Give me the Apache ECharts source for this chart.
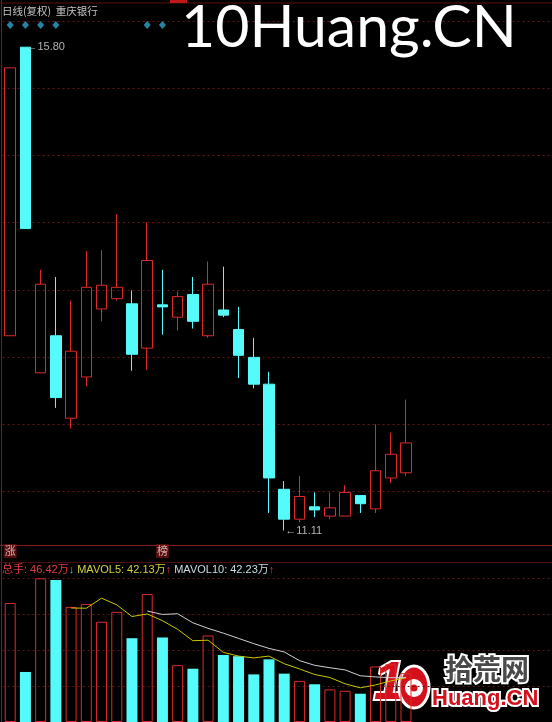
<!DOCTYPE html>
<html><head><meta charset="utf-8">
<script src="https://cdn.jsdelivr.net/npm/echarts@6/dist/echarts.min.js"></script>
<style>html,body{margin:0;padding:0;background:#000;}#c{width:552px;height:722px;}</style>
</head><body><div id="c"></div>
<script>
// ---- data ----
const categories = ['D1','D2','D3','D4','D5','D6','D7','D8','D9','D10','D11','D12','D13','D14','D15','D16','D17','D18',
  'D19','D20','D21','D22','D23','D24','D25','D26','D27','D28','D29','D30','D31','D32','D33','D34','D35','D36'];
const opens  = [13.00,15.80,12.64,13.00,12.20,12.60,13.26,13.36,13.31,12.88,13.30,13.18,13.40,13.00,13.25,13.06,12.79,12.53,11.51,11.22,11.34,11.25,11.25,11.45,11.32,11.62,11.67];
const closes = [15.60,14.04,13.50,12.40,12.85,13.47,13.49,13.47,12.82,13.73,13.28,13.38,13.14,13.50,13.20,12.81,12.53,11.62,11.22,11.44,11.31,11.33,11.48,11.37,11.69,11.85,11.96];
const lows   = [13.00,14.04,12.64,12.30,12.10,12.51,13.14,13.34,12.66,12.67,13.01,13.05,13.07,12.98,13.18,12.59,12.49,11.28,11.11,11.19,11.24,11.22,11.25,11.28,11.28,11.57,11.64];
const highs  = [15.60,15.80,13.64,13.57,13.34,13.82,13.83,14.18,13.44,14.10,13.64,13.43,13.57,13.72,13.67,13.28,12.98,12.65,11.59,11.64,11.48,11.48,11.55,11.45,12.14,12.06,12.38];
const volumes = [113.2,47.6,136.7,135.1,109.5,112.3,95.4,104.8,79.7,121.7,80.4,54.1,50.7,82.3,63.8,62.6,45.3,59.6,46.0,39.1,35.9,31.0,29.7,26.9,52.8,54.85,46.42];
const signalIdx = [0,1,2,3,9,10];
const flagIdx = [0,10];
const flagText = ['涨','榜'];
const titleText = '日线(复权)  重庆银行';

// ---- styles ----
const RED = '#dc2a2a', CYAN = '#55fafa', GRIDC = '#661414';
const n = opens.length;
const up = opens.map((o,i)=>closes[i] >= o);
const kdata = opens.map((o,i)=>[o, closes[i], lows[i], highs[i]]);
function ma(k){ return volumes.map((v,i)=>{ if(i<k-1) return '-'; let s=0; for(let j=i-k+1;j<=i;j++) s+=volumes[j]; return +(s/k).toFixed(3);}); }
const ma5 = ma(5), ma10 = ma(10);
const last = n-1;
const arrow = (a,b)=> a>=b ? '↑' : '↓';
const volArrow = arrow(volumes[last], volumes[last-1]);
const ma5Arrow = arrow(ma5[last], ma5[last-1]);
const ma10Arrow = arrow(ma10[last], ma10[last-1]);

const L = 2.6, W = 548;
const mkX = (gi)=>({type:'category', gridIndex:gi, data:categories, boundaryGap:true, show:false});
const hiddenY = (gi, extra)=>Object.assign({type:'value', gridIndex:gi, axisLine:{show:false}, axisTick:{show:false}, axisLabel:{show:false}, splitLine:{show:false}}, extra||{});
const dotted = {show:true, lineStyle:{color:GRIDC, type:[2,3], width:1}};

const chart = echarts.init(document.getElementById('c'), null, {renderer:'canvas'});
chart.setOption({
  backgroundColor:'#000',
  animation:false,
  grid:[
    {left:L, width:W, top:21, height:524},
    {left:L, width:W, top:578.3, height:145.7},
    {left:L, width:W, top:21, height:470.7},
    {left:L, width:W, top:20, height:10},
    {left:L, width:W, top:544, height:14}
  ],
  xAxis:[mkX(0),mkX(1),mkX(2),mkX(3),mkX(4)],
  yAxis:[
    hiddenY(0,{min:10.9694, max:16.0542, scale:true}),
    hiddenY(1,{min:0, max:136.7, interval:34.175, splitLine:dotted}),
    hiddenY(2,{min:0, max:7, interval:1, splitLine:dotted}),
    hiddenY(3,{min:0, max:1}),
    hiddenY(4,{min:0, max:1})
  ],
  series:[
    {type:'candlestick', xAxisIndex:0, yAxisIndex:0, data:kdata, barWidth:11,
     itemStyle:{color:'transparent', color0:CYAN, borderColor:RED, borderColor0:CYAN, borderWidth:1},
     markPoint:{symbol:'circle', symbolSize:0,
       data:[{type:'max', valueDim:'highest'},{type:'min', valueDim:'lowest'}],
       label:{show:true, position:'right', distance:1, color:'#b4b4b4', fontSize:11, fontFamily:'Liberation Sans',
         formatter:p=>'←'+Number(p.value).toFixed(2)}}
    },
    {type:'bar', xAxisIndex:1, yAxisIndex:1, barWidth:11,
     data:volumes.map((v,i)=>({value:v, itemStyle: up[i] ? {color:'transparent', borderColor:RED, borderWidth:1} : {color:CYAN}}))},
    {type:'line', xAxisIndex:1, yAxisIndex:1, data:ma5, symbol:'none', lineStyle:{color:'#c8c800', width:1}},
    {type:'line', xAxisIndex:1, yAxisIndex:1, data:ma10, symbol:'none', lineStyle:{color:'#d0d0d0', width:1}},
    {type:'scatter', xAxisIndex:3, yAxisIndex:3, data:signalIdx.map(i=>[i,0.5]), symbol:'diamond', symbolSize:[7,8], itemStyle:{color:'#2aa8cc'}},
    {type:'scatter', xAxisIndex:4, yAxisIndex:4, data:flagIdx.map((i,k)=>({value:[i,0.5], name:flagText[k]})), symbol:'rect', symbolSize:[13,14],
     itemStyle:{color:'#6a1010'}, label:{show:true, position:'inside', formatter:p=>p.name, color:'#f2d6d6', fontSize:11, fontFamily:'Noto Sans CJK SC'}}
  ],
  graphic:[
    {type:'line', shape:{x1:0,y1:3,x2:552,y2:3}, style:{stroke:'#5a1010', lineWidth:1}},
    {type:'rect', shape:{x:170,y:0,width:17,height:3}, style:{fill:'#c01818'}},
    {type:'line', shape:{x1:1.5,y1:0,x2:1.5,y2:722}, style:{stroke:'#7a1a1a', lineWidth:1}},
    {type:'line', shape:{x1:0,y1:545.5,x2:552,y2:545.5}, style:{stroke:'#8a1c1c', lineWidth:1}},
    {type:'line', shape:{x1:0,y1:562.5,x2:552,y2:562.5}, style:{stroke:'#4a1010', lineWidth:1}},
    {type:'text', left:2, top:6, style:{text:titleText, font:'10.5px "Noto Sans CJK SC"', fill:'#c4c4c4'}},
    {type:'text', left:2, top:564, style:{
      text:'{r|总手: '+volumes[last].toFixed(2)+'万}{c|'+volArrow+'} {y|MAVOL5: '+ma5[last].toFixed(2)+'万}{r|'+ma5Arrow+'} {w|MAVOL10: '+ma10[last].toFixed(2)+'万}{r|'+ma10Arrow+'}',
      font:'11px "Liberation Sans","Noto Sans CJK SC"',
      rich:{r:{fill:'#e03c3c', font:'11px "Liberation Sans","Noto Sans CJK SC"'}, c:{fill:'#3cc8e0', font:'11px "Liberation Sans","Noto Sans CJK SC"'},
            y:{fill:'#d2d23c', font:'11px "Liberation Sans","Noto Sans CJK SC"'}, w:{fill:'#c8dce6', font:'11px "Liberation Sans","Noto Sans CJK SC"'}}}},
    {type:'text', left:181, top:-2, z:100, style:{text:'10Huang.CN', font:'59px Lato', fill:'#ffffff'}},
    // bottom-right logo
    {type:'group', z:100, children:[
      {type:'text', x:374, y:657, style:{text:'1', font:'italic bold 54px "Liberation Sans"', fill:'#d4101c', stroke:'#ffffff', lineWidth:4, strokeFirst:true}},
      {type:'ellipse', shape:{cx:414, cy:687, rx:15, ry:21}, style:{fill:'#d4101c', stroke:'#ffffff', lineWidth:3}},
      {type:'circle', shape:{cx:414, cy:688, r:9}, style:{fill:'#ffffff'}},
      {type:'circle', shape:{cx:414, cy:688, r:3.5}, style:{fill:'#d4101c'}},
      {type:'text', x:445, y:655, style:{text:'拾荒网', font:'bold 28px "Noto Sans CJK SC"', fill:'#4a4a4a', stroke:'#ffffff', lineWidth:4, strokeFirst:true}},
      {type:'text', x:432, y:688, style:{text:'Huang.CN', font:'bold 22px "Liberation Sans"', fill:'#d4101c', stroke:'#ffffff', lineWidth:4, strokeFirst:true}}
    ]}
  ]
});
</script>
</body></html>
